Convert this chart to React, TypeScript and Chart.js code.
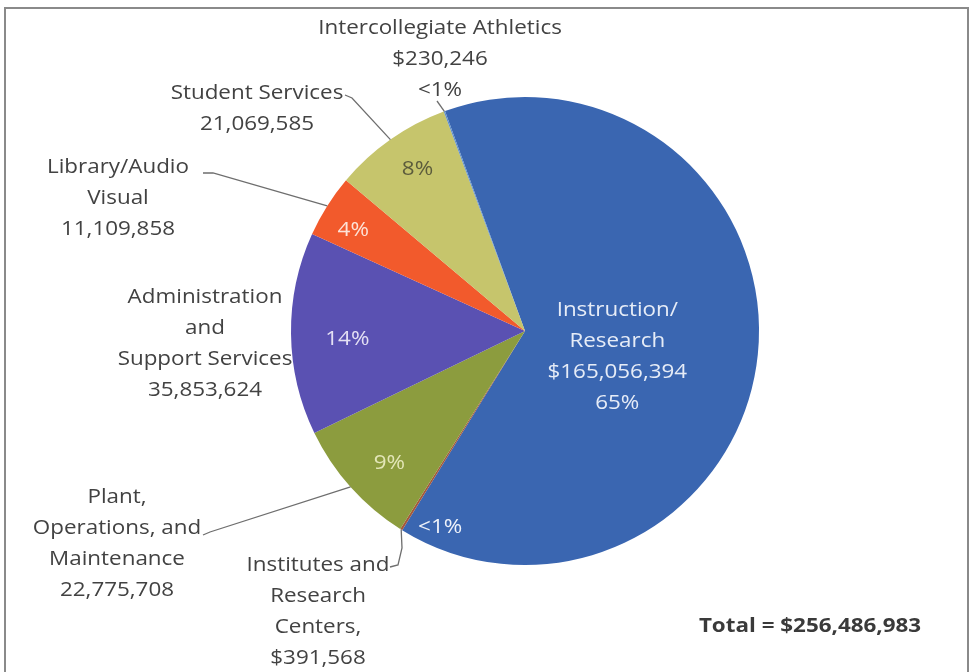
import React, { useEffect, useRef } from "react";
import { Chart, registerables } from "chart.js";
Chart.register(...registerables);

// ---- data ----
const categories = [
  "Instruction/Research",
  "Institutes and Research Centers",
  "Plant, Operations, and Maintenance",
  "Administration and Support Services",
  "Library/Audio Visual",
  "Student Services",
  "Intercollegiate Athletics",
];
const amounts = [165056394, 391568, 22775708, 35853624, 11109858, 21069585, 230246];
const percentLabels = ["65%", "<1%", "9%", "14%", "4%", "8%", "<1%"];
const amountLabels = ["$165,056,394", "$391,568", "22,775,708", "35,853,624", "11,109,858", "21,069,585", "$230,246"];
const nameLines = [
  ["Instruction/", "Research"],
  ["Institutes and", "Research", "Centers,"],
  ["Plant,", "Operations, and", "Maintenance"],
  ["Administration", "and", "Support Services"],
  ["Library/Audio", "Visual"],
  ["Student Services"],
  ["Intercollegiate Athletics"],
];
const totalLabel = "Total = $256,486,983";

// ---- styles / layout ----
const sliceColors = ["#3a66b1", "#a4583a", "#8c9c3e", "#5a51b2", "#f25a2c", "#c6c56c", "#5f8fc8"];
const FONT = "'Open Sans', Lato, sans-serif";
const FONT_SIZE = 20;
const SX = 1.12; // horizontal text stretch
const TEXT = "#424242";
const LH = 31;
// label placement (not data)
const layout = [
  { inside: true, dAngle: 10, r: 0.41, color: "#e6ecf7" },
  { x: 318, y: 565, leader: [[390, 567], [398, 565], [402, 548]], pct: { dAngle: -8.6, r: 0.915, color: "#eef2fa" } },
  { x: 117, y: 497, leader: [[203, 535], [210, 532]], pct: { dAngle: -2.5, r: 0.81, color: "#e3e6b8" } },
  { x: 205, y: 297, leader: null, pct: { dAngle: -2, r: 0.76, color: "#e4e0f4" } },
  { x: 118, y: 167, leader: [[203, 173], [213, 173]], pct: { dAngle: -2, r: 0.85, color: "#fde3d8" } },
  { x: 257, y: 93, leader: [[345, 95], [352, 98]], pct: { dAngle: 1.5, r: 0.83, color: "#5b5b3c" } },
  { x: 440, y: 28, leader: [[437, 101]], pct: null, pctOutside: true },
];

function drawText(ctx: CanvasRenderingContext2D, t: string, x: number, y: number) {
  ctx.save();
  ctx.translate(x, y);
  ctx.scale(SX, 1);
  ctx.fillText(t, 0, 0);
  ctx.restore();
}

const labelPlugin = {
  id: "labels",
  beforeDraw(chart: any) {
    const ctx = chart.ctx;
    ctx.save();
    ctx.fillStyle = "#ffffff";
    ctx.fillRect(0, 0, chart.width, chart.height);
    ctx.strokeStyle = "#8a8a8a";
    ctx.lineWidth = 2;
    ctx.strokeRect(5, 8, 963, 700);
    ctx.restore();
  },
  afterDatasetsDraw(chart: any) {
    const ctx = chart.ctx;
    const arcs = chart.getDatasetMeta(0).data;
    ctx.save();
    ctx.textAlign = "center";
    ctx.textBaseline = "middle";
    ctx.font = `${FONT_SIZE}px ${FONT}`;
    const pt = (arc: any, dAngleDeg: number, rf: number) => {
      const mid = (arc.startAngle + arc.endAngle) / 2 + (dAngleDeg * Math.PI) / 180;
      return [arc.x + Math.cos(mid) * arc.outerRadius * rf, arc.y + Math.sin(mid) * arc.outerRadius * rf];
    };
    arcs.forEach((arc: any, i: number) => {
      const L: any = layout[i];
      if (L.inside) {
        const [cx, cy] = pt(arc, L.dAngle, L.r);
        const lines = [...nameLines[i], amountLabels[i], percentLabels[i]];
        ctx.fillStyle = L.color;
        lines.forEach((t, k) => drawText(ctx, t, cx, cy + (k - (lines.length - 1) / 2) * LH));
        return;
      }
      const lines = [...nameLines[i], amountLabels[i]];
      if (L.pctOutside) lines.push(percentLabels[i]);
      ctx.fillStyle = TEXT;
      lines.forEach((t, k) => drawText(ctx, t, L.x, L.y + k * LH));
      if (L.pct) {
        const [px, py] = pt(arc, L.pct.dAngle, L.pct.r);
        ctx.fillStyle = L.pct.color;
        drawText(ctx, percentLabels[i], px, py);
      }
      if (L.leader) {
        const [ex, ey] = pt(arc, 0, 1);
        ctx.strokeStyle = "#6e6e6e";
        ctx.lineWidth = 1.3;
        ctx.beginPath();
        L.leader.forEach((p: number[], k: number) => (k === 0 ? ctx.moveTo(p[0], p[1]) : ctx.lineTo(p[0], p[1])));
        ctx.lineTo(ex, ey);
        ctx.stroke();
      }
    });
    ctx.font = `bold ${FONT_SIZE}px ${FONT}`;
    ctx.fillStyle = "#3a3a3a";
    drawText(ctx, totalLabel, 810, 626);
    ctx.restore();
  },
};

export default function App() {
  const ref = useRef<HTMLCanvasElement | null>(null);
  useEffect(() => {
    if (!ref.current) return;
    const chart = new Chart(ref.current, {
      type: "pie",
      data: {
        labels: categories,
        datasets: [{ data: amounts, backgroundColor: sliceColors, borderWidth: 0 }],
      },
      options: {
        animation: false,
        responsive: true,
        maintainAspectRatio: false,
        rotation: -20,
        layout: { padding: { left: 291, right: 213, top: 97, bottom: 107 } },
        plugins: { legend: { display: false }, tooltip: { enabled: false } },
      },
      plugins: [labelPlugin],
    });
    return () => chart.destroy();
  }, []);
  return (
    <div style={{ position: "fixed", left: 0, top: 0, width: 972, height: 672 }}>
      <canvas ref={ref} />
    </div>
  );
}
